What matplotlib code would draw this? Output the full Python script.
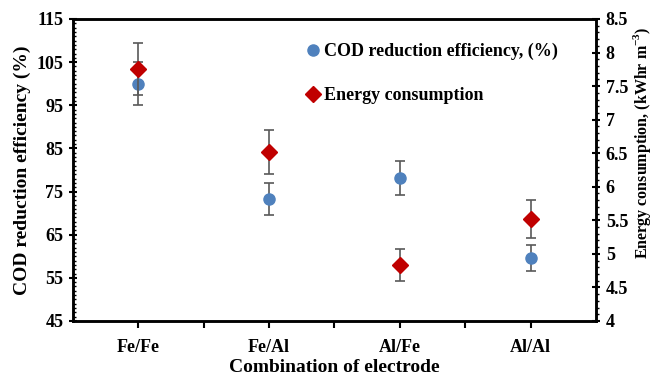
import matplotlib.pyplot as plt
from matplotlib.ticker import MultipleLocator, FixedLocator
from matplotlib.lines import Line2D

categories = ["Fe/Fe", "Fe/Al", "Al/Fe", "Al/Al"]
cod = [100.0, 73.2, 78.2, 59.7]
cod_err = [5.0, 3.7, 3.9, 3.0]
energy = [7.75, 6.52, 4.84, 5.52]
energy_err = [0.39, 0.33, 0.24, 0.28]
cod_ticks = [45, 55, 65, 75, 85, 95, 105, 115]
energy_ticks = [4, 4.5, 5, 5.5, 6, 6.5, 7, 7.5, 8, 8.5]

plt.rcParams['font.family'] = ['Liberation Serif', 'DejaVu Serif']
plt.rcParams['font.weight'] = 'bold'
plt.rcParams['mathtext.fontset'] = 'custom'
plt.rcParams['mathtext.bf'] = 'Liberation Serif:bold'
plt.rcParams['mathtext.rm'] = 'Liberation Serif:bold'

blue = '#4F81BD'
red = '#C00000'
err_col = '#595959'

fig = plt.figure(figsize=(6.54, 3.76), dpi=100)
ax = fig.add_axes([0.1116, 0.1463, 0.7997, 0.8032])
ax2 = ax.twinx()

x = list(range(len(categories)))
ax.errorbar(x, cod, yerr=cod_err, fmt='o', color=blue, markersize=8,
            ecolor=err_col, elinewidth=1.2, capsize=3.5, capthick=1.2, zorder=3)
ax2.errorbar(x, energy, yerr=energy_err, fmt='D', color=red, markersize=8,
             ecolor=err_col, elinewidth=1.2, capsize=3.5, capthick=1.2, zorder=3)

ax.set_xlim(-0.5, 3.5)
ax.set_ylim(45, 115)
ax2.set_ylim(4, 8.5)

ax.set_xticks(x)
ax.set_xticklabels(categories, fontsize=13, fontweight='bold')
ax.xaxis.set_minor_locator(FixedLocator([0.5, 1.5, 2.5]))
ax.tick_params(axis='x', which='both', direction='out', length=5, width=1.5)
ax.tick_params(axis='x', which='major', pad=8)

ax.set_yticks(cod_ticks)
ax.set_yticklabels([str(t) for t in cod_ticks])
ax.yaxis.set_minor_locator(MultipleLocator(1))
ax.tick_params(axis='y', which='major', direction='inout', length=6, width=1.5,
               labelsize=13, pad=4)
ax.tick_params(axis='y', which='minor', direction='in', length=2.5, width=1.0)

ax2.set_yticks(energy_ticks)
ax2.set_yticklabels([f"{t:g}" for t in energy_ticks])
ax2.yaxis.set_minor_locator(MultipleLocator(0.1))
ax2.tick_params(axis='y', which='major', direction='inout', length=6, width=1.5,
                labelsize=13, pad=4)
ax2.tick_params(axis='y', which='minor', direction='out', length=2.5, width=1.0)

for a in (ax, ax2):
    for s in a.spines.values():
        s.set_linewidth(1.8)
    for lab in a.get_yticklabels():
        lab.set_fontweight('bold')

ax.set_ylabel("COD reduction efficiency (%)", fontsize=14, fontweight='bold', labelpad=4)
ax2.set_ylabel("Energy consumption, (kWhr m$^{-3}$)", fontsize=11.5,
               fontweight='bold', ha='center', va='center')
ax2.yaxis.set_label_coords(1.088, 0.59)
ax.set_xlabel("Combination of electrode", fontsize=14, fontweight='bold', labelpad=2)

handles = [
    Line2D([], [], marker='o', color=blue, linestyle='none', markersize=8),
    Line2D([], [], marker='D', color=red, linestyle='none', markersize=8),
]
ax.legend(handles, ["COD reduction efficiency, (%)", "Energy consumption"],
          loc='upper left', bbox_to_anchor=(0.411, 0.975), frameon=False,
          labelspacing=1.5, handletextpad=0.1, handlelength=1.0,
          prop={'family': 'Liberation Serif', 'weight': 'bold', 'size': 13})

fig.savefig('out.png', dpi=100)
